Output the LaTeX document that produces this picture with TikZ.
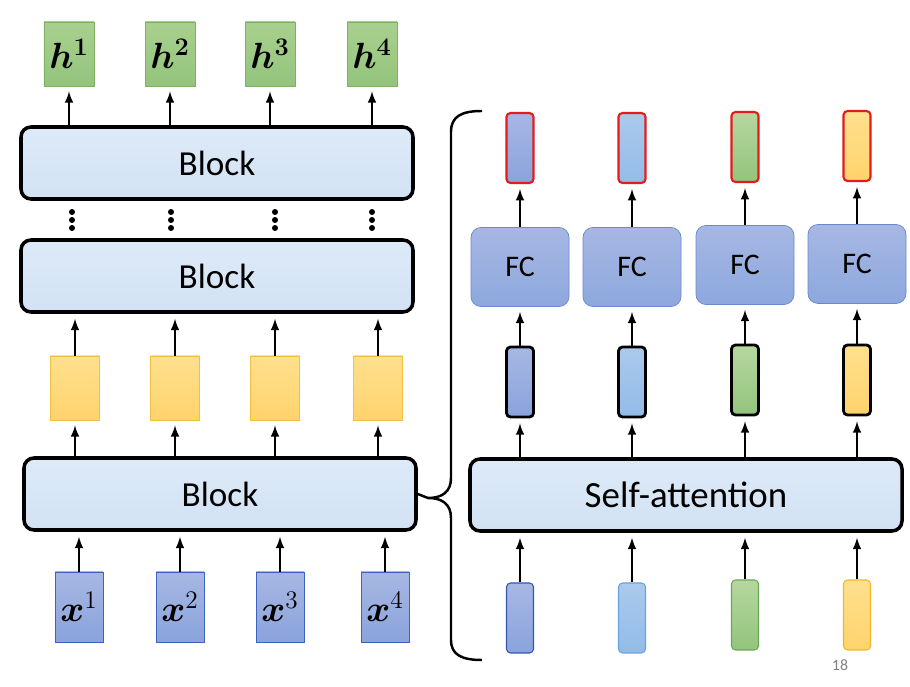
\documentclass[tikz,border=0pt]{standalone}
\usepackage[no-math]{fontspec}
\setmainfont{Carlito}
\usepackage{bm}
\usetikzlibrary{arrows, positioning}

\definecolor{blkTop}{HTML}{DDEAF8}
\definecolor{blkBot}{HTML}{D2E2F4}
\definecolor{hTop}{HTML}{A9D08E}
\definecolor{hBot}{HTML}{93C47D}
\definecolor{hLine}{HTML}{7EB062}
\definecolor{yTop}{HTML}{FFE08E}
\definecolor{yBot}{HTML}{FFD36C}
\definecolor{yLine}{HTML}{F1C040}
\definecolor{xTop}{HTML}{A7B7E3}
\definecolor{xBot}{HTML}{8AA3DC}
\definecolor{xLine}{HTML}{3E62BF}
\definecolor{fcTop}{HTML}{A7B7E4}
\definecolor{fcBot}{HTML}{8DA8DD}
\definecolor{fcLine}{HTML}{6A88CC}
\definecolor{lbTop}{HTML}{ABC9EC}
\definecolor{lbBot}{HTML}{92BCE8}
\definecolor{outRed}{HTML}{E31B1B}
\definecolor{inBlue}{HTML}{3355B0}
\definecolor{inLight}{HTML}{6AA4DE}
\definecolor{inGreen}{HTML}{6AA857}
\definecolor{inYellow}{HTML}{F1B72C}

\begin{document}
\begin{tikzpicture}[x=0.2mm, y=-0.2mm]
\tikzstyle{block} = [rectangle, rounded corners=2mm, line width=2pt, draw=black, top color=blkTop, bottom color=blkBot, minimum width=78.4mm, minimum height=14.4mm, font=\fontsize{20}{24}\selectfont]
\tikzstyle{hvec} = [rectangle, draw=hLine, top color=hTop, bottom color=hBot, minimum width=10mm, minimum height=12.8mm, inner sep=0, font=\fontsize{20}{24}\selectfont]
\tikzstyle{feat} = [rectangle, draw=yLine, top color=yTop, bottom color=yBot, minimum width=9.8mm, minimum height=12.8mm, inner sep=0]
\tikzstyle{xvec} = [rectangle, draw=xLine, top color=xTop, bottom color=xBot, minimum width=9.6mm, minimum height=14mm, inner sep=0, font=\fontsize{20}{24}\selectfont]
\tikzstyle{fc} = [rectangle, rounded corners=2mm, draw=fcLine, top color=fcTop, bottom color=fcBot, minimum width=19.6mm, minimum height=15.8mm, font=\fontsize{17}{20}\selectfont]
\tikzstyle{vec} = [rectangle, rounded corners=0.8mm, minimum width=5.4mm, minimum height=14mm, inner sep=0]
\tikzstyle{vblue} = [top color=xTop, bottom color=xBot]
\tikzstyle{vlight} = [top color=lbTop, bottom color=lbBot]
\tikzstyle{vgreen} = [top color=hTop!85!white, bottom color=hBot]
\tikzstyle{vyellow} = [top color=yTop, bottom color=yBot]
\tikzstyle{outv} = [vec, line width=1.2pt, draw=outRed]
\tikzstyle{midv} = [vec, line width=1.6pt, draw=black]
\tikzstyle{inv} = [vec, line width=0.6pt]
\tikzstyle{connect} = [-latex, line width=1.2pt, shorten >=1mm]
\useasboundingbox (0,0) rectangle (910,687);
  % left: stack of blocks
  \node[hvec] (h1) at (69,54) {$\bm{h}^{\bm{1}}$};
  \node[hvec] (h2) at (170,54) {$\bm{h}^{\bm{2}}$};
  \node[hvec] (h3) at (270,54) {$\bm{h}^{\bm{3}}$};
  \node[hvec] (h4) at (372,54) {$\bm{h}^{\bm{4}}$};
  \node[block] (blk3) at (217,163) {Block};
  \node[block] (blk2) at (217,276) {Block};
  \node[feat] (f1) at (75,388) {};
  \node[feat] (f2) at (175,388) {};
  \node[feat] (f3) at (275,388) {};
  \node[feat] (f4) at (378,388) {};
  \node[block] (blk1) at (220,494) {Block};
  \node[xvec] (x1) at (79,607) {$\bm{x}^1$};
  \node[xvec] (x2) at (180,607) {$\bm{x}^2$};
  \node[xvec] (x3) at (280,607) {$\bm{x}^3$};
  \node[xvec] (x4) at (385,607) {$\bm{x}^4$};
\foreach \c in {72,171,275,372}
  \foreach \d in {212,220,228} \fill (\c,\d) circle (3);
\path (h1 |- blk3.north) edge [connect] (h1) (h2 |- blk3.north) edge [connect] (h2)
  (h3 |- blk3.north) edge [connect] (h3) (h4 |- blk3.north) edge [connect] (h4)
  (f1) edge [connect] (f1 |- blk2.south) (f2) edge [connect] (f2 |- blk2.south)
  (f3) edge [connect] (f3 |- blk2.south) (f4) edge [connect] (f4 |- blk2.south)
  (f1 |- blk1.north) edge [connect] (f1) (f2 |- blk1.north) edge [connect] (f2)
  (f3 |- blk1.north) edge [connect] (f3) (f4 |- blk1.north) edge [connect] (f4)
  (x1) edge [connect] (x1 |- blk1.south) (x2) edge [connect] (x2 |- blk1.south)
  (x3) edge [connect] (x3 |- blk1.south) (x4) edge [connect] (x4 |- blk1.south);
  % right: inside a block
  \node[outv, vblue] (o1) at (520,148) {};
  \node[outv, vlight] (o2) at (632,148) {};
  \node[outv, vgreen] (o3) at (745,147) {};
  \node[outv, vyellow] (o4) at (857,146) {};
  \node[fc] (fc1) at (520,267) {FC};
  \node[fc] (fc2) at (632,267) {FC};
  \node[fc] (fc3) at (745,265) {FC};
  \node[fc] (fc4) at (857,264) {FC};
  \node[midv, vblue] (m1) at (520,382) {};
  \node[midv, vlight] (m2) at (632,382) {};
  \node[midv, vgreen] (m3) at (745,380) {};
  \node[midv, vyellow] (m4) at (857,380) {};
  \node[block, minimum width=86.4mm, font=\fontsize{21}{25}\selectfont] (sa) at (686,495) {Self-attention};
  \node[inv, draw=inBlue, vblue] (i1) at (520,618) {};
  \node[inv, draw=inLight, vlight] (i2) at (632,618) {};
  \node[inv, draw=inGreen, vgreen] (i3) at (745,615) {};
  \node[inv, draw=inYellow, vyellow] (i4) at (857,615) {};
\path (fc1) edge [connect] (o1) (fc2) edge [connect] (o2)
  (fc3) edge [connect] (o3) (fc4) edge [connect] (o4)
  (m1) edge [connect] (fc1) (m2) edge [connect] (fc2)
  (m3) edge [connect] (fc3) (m4) edge [connect] (fc4)
  (m1 |- sa.north) edge [connect] (m1) (m2 |- sa.north) edge [connect] (m2)
  (m3 |- sa.north) edge [connect] (m3) (m4 |- sa.north) edge [connect] (m4)
  (i1) edge [connect] (i1 |- sa.south) (i2) edge [connect] (i2 |- sa.south)
  (i3) edge [connect] (i3 |- sa.south) (i4) edge [connect] (i4 |- sa.south);
  % brace
  \coordinate (tip) at (blk1.east);
\draw[line width=1.4pt] (482,111) .. controls (462,111) and (451,116) .. (451,132) -- (451,478)
  .. controls (451,492) and (442,498) .. (428,498) -- (tip) -- (428,498)
  .. controls (442,498) and (451,504) .. (451,518) -- (451,640)
  .. controls (451,655) and (462,660) .. (482,660);
  \node[text=gray, font=\fontsize{9}{10}\selectfont] (pg) at (840,665) {18};
\end{tikzpicture}
\end{document}
